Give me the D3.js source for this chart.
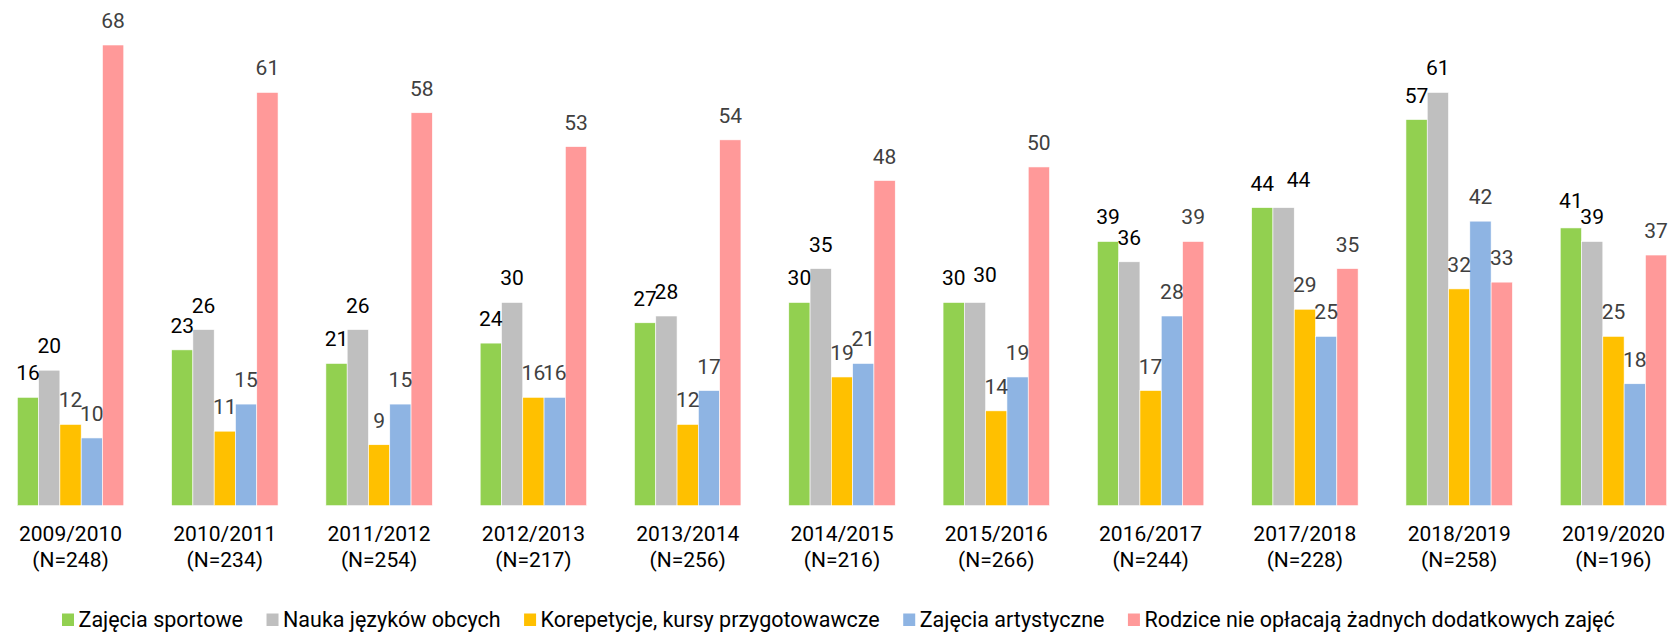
<!DOCTYPE html>
<html>
<head>
<meta charset="utf-8">
<script src="https://cdn.jsdelivr.net/npm/d3@7"></script>
<style>
  html, body { margin: 0; padding: 0; background: #fff; }
  svg { display: block; font-family: Roboto, "Noto Sans", sans-serif; }
</style>
</head>
<body>
<svg id="chart" width="1680" height="635"></svg>
<script>
// school years and sample sizes
const years = ["2009/2010", "2010/2011", "2011/2012", "2012/2013", "2013/2014",
  "2014/2015", "2015/2016", "2016/2017", "2017/2018", "2018/2019", "2019/2020"];
const sizes = [248, 234, 254, 217, 256, 216, 266, 244, 228, 258, 196];

const seriesNames = ["Zajęcia sportowe", "Nauka języków obcych",
  "Korepetycje, kursy przygotowawcze", "Zajęcia artystyczne",
  "Rodzice nie opłacają żadnych dodatkowych zajęć"];

const sport    = [16, 23, 21, 24, 27, 30, 30, 39, 44, 57, 41];
const jezyki   = [20, 26, 26, 30, 28, 35, 30, 36, 44, 61, 39];
const korep    = [12, 11, 9, 16, 12, 19, 14, 17, 29, 32, 25];
const artyst   = [10, 15, 15, 16, 17, 21, 19, 28, 25, 42, 18];
const brak     = [68, 61, 58, 53, 54, 48, 50, 39, 35, 33, 37];

const series = [sport, jezyki, korep, artyst, brak];
const colors = ["#92D050", "#BFBFBF", "#FFC000", "#8EB4E3", "#FF9999"];
const labelColors = ["#000000", "#000000", "#404040", "#404040", "#404040"];

// labels that were dragged aside in the original, [dx, dy]
const nudge = {
  "2015/2016|1": [10, -3],
  "2017/2018|1": [15, -4],
  "2019/2020|0": [0, -3]
};

const svg = d3.select("#chart");

const x = d3.scaleBand()
  .domain(years)
  .range([17.3, 1666.7])
  .paddingInner(0.31)
  .paddingOuter(0);

const xs = d3.scaleBand()
  .domain(d3.range(series.length))
  .range([0, x.bandwidth()]);

const y = d3.scaleLinear()
  .domain([0, 68])
  .range([505.7, 45]);

const groups = svg.append("g").selectAll("g")
  .data(years)
  .join("g")
  .attr("transform", d => `translate(${x(d)},0)`);

const rows = (d, i) => series.map((s, k) => ({year: d, k: k, v: s[i]}));
const off = (d, j) => (nudge[d.year + "|" + d.k] || [0, 0])[j];

// bars
groups.selectAll("rect")
  .data(rows)
  .join("rect")
  .attr("x", d => xs(d.k))
  .attr("y", d => y(d.v))
  .attr("width", xs.bandwidth())
  .attr("height", d => y(0) - y(d.v))
  .attr("fill", d => colors[d.k])
  .attr("stroke", "#ffffff")
  .attr("stroke-width", 0.6);

// value labels
groups.selectAll("text.val")
  .data(rows)
  .join("text")
  .attr("class", "val")
  .attr("x", d => xs(d.k) + xs.bandwidth() / 2 + off(d, 0))
  .attr("y", d => y(d.v) - 17 + off(d, 1))
  .attr("text-anchor", "middle")
  .style("font-size", "21px")
  .attr("fill", d => labelColors[d.k])
  .text(d => d.v);

// category labels (two lines)
const cat = svg.append("g").selectAll("text")
  .data(years)
  .join("text")
  .attr("text-anchor", "middle")
  .attr("transform", d => `translate(${x(d) + x.bandwidth() / 2},0)`)
  .style("font-size", "21px")
  .attr("fill", "#000");

cat.append("tspan")
  .attr("x", 0)
  .attr("y", 540.5)
  .text(d => d);

cat.append("tspan")
  .attr("x", 0)
  .attr("y", 566.5)
  .text((d, i) => `(N=${sizes[i]})`);

// legend
const legend = svg.append("g");
let lx = 62;
seriesNames.forEach((name, k) => {
  legend.append("rect")
    .attr("x", lx)
    .attr("y", 613.5)
    .attr("width", 12)
    .attr("height", 12.5)
    .attr("fill", colors[k]);
  const t = legend.append("text")
    .attr("x", lx + 16.5)
    .attr("y", 626.5)
    .style("font-size", "21.5px")
    .attr("fill", "#000")
    .text(name);
  lx += 16.5 + t.node().getComputedTextLength() + 23.5;
});
</script>
</body>
</html>
